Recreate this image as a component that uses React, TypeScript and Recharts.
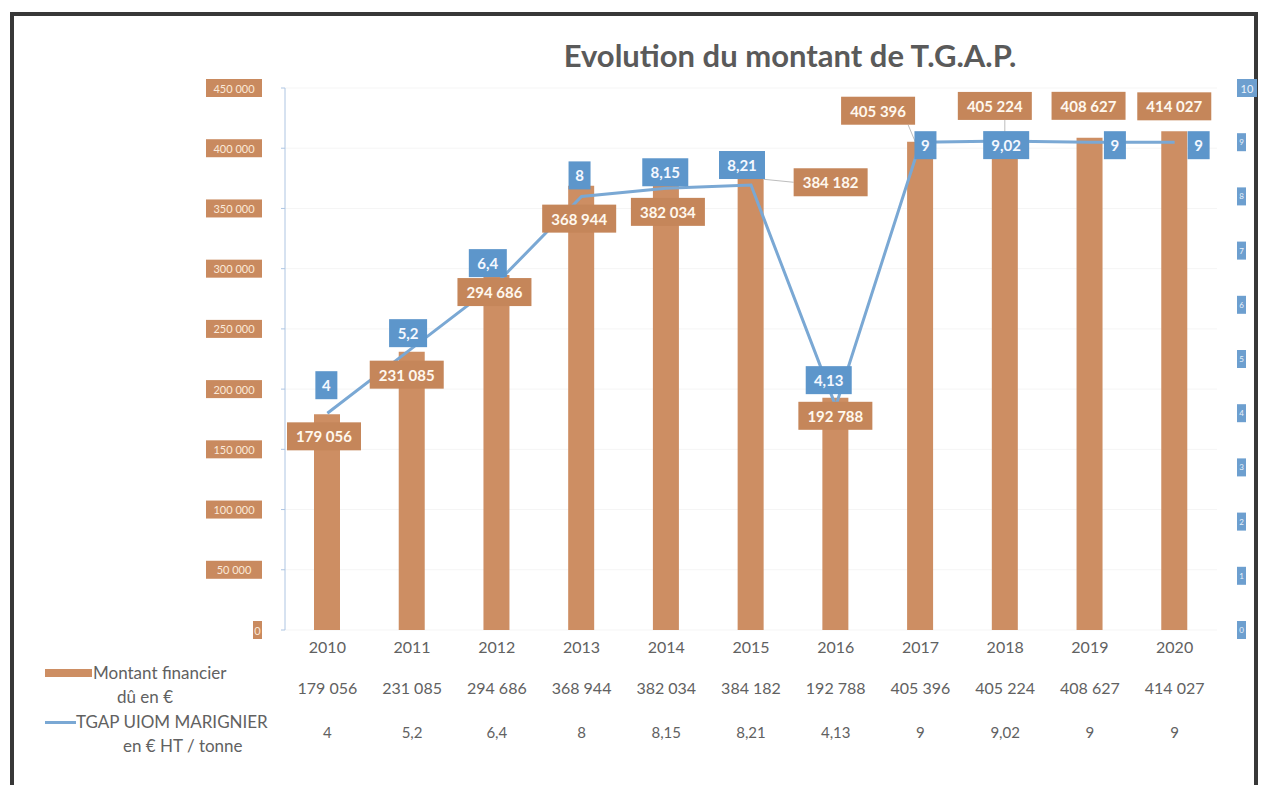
import {
  ComposedChart,
  Bar,
  Line,
  XAxis,
  YAxis,
  CartesianGrid,
  LabelList,
} from "recharts";

const YEARS = ["2010", "2011", "2012", "2013", "2014", "2015", "2016", "2017", "2018", "2019", "2020"];
const MONTANT = [179056, 231085, 294686, 368944, 382034, 384182, 192788, 405396, 405224, 408627, 414027];
const TGAP = [4, 5.2, 6.4, 8, 8.15, 8.21, 4.13, 9, 9.02, 9, 9];
const LEFT_TICKS = [0, 50000, 100000, 150000, 200000, 250000, 300000, 350000, 400000, 450000];
const RIGHT_TICKS = [0, 1, 2, 3, 4, 5, 6, 7, 8, 9, 10];

// label placement (Excel-like manual positions), relative to bar top / line point
const BAR_LABEL_OFFSETS: [number, number][] = [
  [-3, 22], [-5, 23], [-2, 17], [-2, 33], [2, 42], [80, 15],
  [0, 18], [-42, -31], [-10, -36], [-1, -32], [0, -25],
];
const LINE_LABEL_OFFSETS: [number, number][] = [
  [-1, -28], [-4, -15], [-9, -20], [-2, -21], [-1, -16], [-9, -20],
  [-7, -26], [5, 3], [1, 4], [25, 3], [24, 3],
];

const BAR_COLOR = "#cd8e63";
const BAR_LABEL_BG = "#c5865a";
const LINE_COLOR = "#7aa8d4";
const LINE_LABEL_BG = "#5d96cb";
const TEXT_GRAY = "#616161";

const data = YEARS.map((year, i) => ({ year, montant: MONTANT[i], tgap: TGAP[i] }));

function fmtEuro(n: number) {
  return n.toString().replace(/\B(?=(\d{3})+(?!\d))/g, " ");
}

function fmtTgap(n: number) {
  return String(n).replace(".", ",");
}

function BarLabel(props: any) {
  const { x, y, width, value, index } = props;
  const cx = x + width / 2;
  const [dx, dy] = BAR_LABEL_OFFSETS[index];
  const lx = cx + dx;
  const ly = y + dy;
  const w = 74;
  const h = 28;
  return (
    <g>
      {index === 5 && (
        <line x1={cx + 13} y1={y + 12} x2={lx - w / 2} y2={ly} stroke="#bdbdbd" strokeWidth={1} />
      )}
      {index === 7 && (
        <line x1={lx + 30} y1={ly + h / 2} x2={cx - 4} y2={y + 2} stroke="#bdbdbd" strokeWidth={1} />
      )}
      {index === 8 && (
        <line x1={lx + 10} y1={ly + h / 2} x2={cx} y2={y} stroke="#bdbdbd" strokeWidth={1} />
      )}
      <rect x={lx - w / 2} y={ly - h / 2} width={w} height={h} fill={BAR_LABEL_BG} />
      <text
        x={lx}
        y={ly}
        textAnchor="middle"
        dominantBaseline="central"
        fill="#fff8ee"
        fontSize={15}
        fontWeight={700}
      >
        {fmtEuro(value)}
      </text>
    </g>
  );
}

function LineLabel(props: any) {
  const { x, y, value, index } = props;
  const [dx, dy] = LINE_LABEL_OFFSETS[index];
  const label = fmtTgap(value);
  const w = label.length === 1 ? 22 : label.length === 3 ? 38 : 46;
  const h = 28;
  const lx = x + dx;
  const ly = y + dy;
  return (
    <g>
      <rect x={lx - w / 2} y={ly - h / 2} width={w} height={h} fill={LINE_LABEL_BG} />
      <text
        x={lx}
        y={ly}
        textAnchor="middle"
        dominantBaseline="central"
        fill="#f4f8ff"
        fontSize={15}
        fontWeight={700}
      >
        {label}
      </text>
    </g>
  );
}

function LeftTick(props: any) {
  const { x, y, payload } = props;
  const label = fmtEuro(payload.value);
  const w = payload.value === 0 ? 9 : 56;
  return (
    <g>
      <rect x={x - w} y={y - 9} width={w} height={18} fill="#c98a5f" />
      <text
        x={x - w / 2}
        y={y}
        textAnchor="middle"
        dominantBaseline="central"
        fill="#fbe9d8"
        fontSize={11}
      >
        {label}
      </text>
    </g>
  );
}

function RightTick(props: any) {
  const { x, y, payload } = props;
  const w = payload.value === 10 ? 20 : 9;
  return (
    <g>
      <rect x={x} y={y - 9} width={w} height={18} fill="#6d9fcf" />
      <text
        x={x + w / 2}
        y={y}
        textAnchor="middle"
        dominantBaseline="central"
        fill="#eaf2fb"
        fontSize={payload.value === 10 ? 11 : 8}
      >
        {payload.value}
      </text>
    </g>
  );
}

function TableTick(props: any) {
  const { x, y, payload } = props;
  const i = payload.index;
  return (
    <g fill={TEXT_GRAY} fontSize={16}>
      <text x={x} y={y + 16} textAnchor="middle" dominantBaseline="central">
        {payload.value}
      </text>
      <text x={x} y={y + 57} textAnchor="middle" dominantBaseline="central">
        {fmtEuro(MONTANT[i])}
      </text>
      <text x={x} y={y + 102} textAnchor="middle" dominantBaseline="central" fontSize={15}>
        {fmtTgap(TGAP[i])}
      </text>
    </g>
  );
}

export default function App() {
  return (
    <div
      style={{
        position: "absolute",
        left: 0,
        top: 0,
        width: 1265,
        height: 785,
        overflow: "hidden",
        background: "#fff",
        fontFamily: "Lato, 'Open Sans', sans-serif",
      }}
    >
      <div
        style={{
          position: "absolute",
          left: 10,
          top: 12,
          width: 1248,
          height: 820,
          border: "4px solid #383838",
          boxSizing: "border-box",
        }}
      />
      <div
        style={{
          position: "absolute",
          left: 0,
          width: 1580,
          top: 36,
          textAlign: "center",
          fontSize: 31,
          fontWeight: 700,
          color: "#5a5a5a",
          lineHeight: "38px",
        }}
      >
        Evolution du montant de T.G.A.P.
      </div>

      <ComposedChart
        width={1265}
        height={785}
        data={data}
        margin={{ top: 88, right: 10, bottom: 15, left: 205 }}
        style={{ position: "absolute", left: 0, top: 0 }}
      >
        <CartesianGrid horizontal vertical={false} stroke="#f5f5f5" yAxisId="left" />
        <XAxis
          dataKey="year"
          axisLine={false}
          tickLine={false}
          tickSize={0}
          tickMargin={0}
          height={140}
          interval={0}
          tick={<TableTick />}
        />
        <YAxis
          yAxisId="left"
          domain={[0, 450000]}
          ticks={LEFT_TICKS}
          width={80}
          axisLine={{ stroke: "#aec5e2" }}
          tickLine={{ stroke: "#aec5e2" }}
          tickSize={4}
          tickMargin={19}
          tick={<LeftTick />}
          interval={0}
        />
        <YAxis
          yAxisId="right"
          orientation="right"
          domain={[0, 10]}
          ticks={RIGHT_TICKS}
          width={38}
          axisLine={false}
          tickLine={false}
          tickSize={0}
          tickMargin={20}
          tick={<RightTick />}
          interval={0}
        />
        <Bar
          yAxisId="left"
          dataKey="montant"
          fill={BAR_COLOR}
          barSize={26}
          isAnimationActive={false}
        >
          <LabelList dataKey="montant" content={<BarLabel />} />
        </Bar>
        <Line
          yAxisId="right"
          type="linear"
          dataKey="tgap"
          stroke={LINE_COLOR}
          strokeWidth={3}
          dot={false}
          activeDot={false}
          isAnimationActive={false}
        >
          <LabelList dataKey="tgap" content={<LineLabel />} />
        </Line>
      </ComposedChart>

      {/* legend keys of the data table */}
      <div style={{ position: "absolute", left: 45, top: 669, width: 47, height: 8, background: BAR_COLOR }} />
      <div style={{ position: "absolute", left: 93, top: 663, fontSize: 17, color: TEXT_GRAY, lineHeight: "20px" }}>
        Montant financier
      </div>
      <div style={{ position: "absolute", left: 117, top: 687, fontSize: 17, color: TEXT_GRAY, lineHeight: "20px" }}>
        dû en €
      </div>
      <div style={{ position: "absolute", left: 45, top: 721, width: 31, height: 3, background: LINE_COLOR }} />
      <div style={{ position: "absolute", left: 76, top: 712, fontSize: 17, color: TEXT_GRAY, lineHeight: "20px" }}>
        TGAP UIOM MARIGNIER
      </div>
      <div style={{ position: "absolute", left: 123, top: 736, fontSize: 17, color: TEXT_GRAY, lineHeight: "20px" }}>
        en € HT / tonne
      </div>
    </div>
  );
}
